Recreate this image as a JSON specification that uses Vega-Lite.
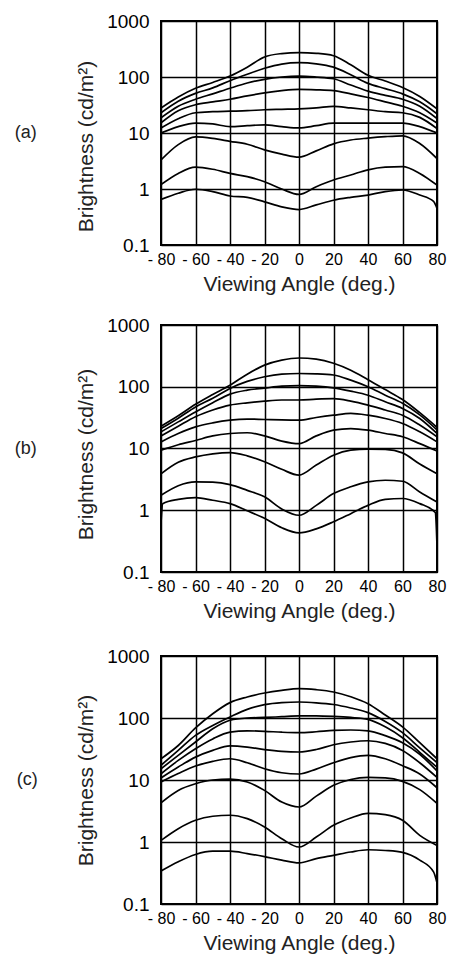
{
"$schema": "https://vega.github.io/schema/vega-lite/v6.json",
"padding": {"left": 13, "top": 11, "right": 2, "bottom": 2},
"config": {
  "view": {"stroke": "black", "strokeWidth": 2},
  "font": "Liberation Sans",
  "axis": {"grid": true, "gridColor": "black", "gridOpacity": 1, "gridWidth": 1.5, "domain": false, "ticks": false, "labelColor": "black", "labelOverlap": false, "labelFlush": false, "labelBound": false, "titleColor": "#222", "titleFontWeight": "normal", "titleFont": "Liberation Sans", "titleFontSize": 21}
},
"data": {"values": [
{"p":"a","c":1,"x":-80,"y":28},{"p":"a","c":1,"x":-70,"y":44},{"p":"a","c":1,"x":-60,"y":63},{"p":"a","c":1,"x":-50,"y":80},{"p":"a","c":1,"x":-40,"y":104},{"p":"a","c":1,"x":-30,"y":150},{"p":"a","c":1,"x":-20,"y":228},{"p":"a","c":1,"x":-10,"y":262},{"p":"a","c":1,"x":0,"y":273},{"p":"a","c":1,"x":10,"y":265},{"p":"a","c":1,"x":20,"y":240},{"p":"a","c":1,"x":30,"y":165},{"p":"a","c":1,"x":40,"y":107},{"p":"a","c":1,"x":50,"y":85},{"p":"a","c":1,"x":60,"y":65},{"p":"a","c":1,"x":70,"y":45},{"p":"a","c":1,"x":80,"y":27},
{"p":"a","c":2,"x":-80,"y":23},{"p":"a","c":2,"x":-70,"y":37},{"p":"a","c":2,"x":-60,"y":51},{"p":"a","c":2,"x":-50,"y":64},{"p":"a","c":2,"x":-40,"y":86},{"p":"a","c":2,"x":-30,"y":112},{"p":"a","c":2,"x":-20,"y":143},{"p":"a","c":2,"x":-10,"y":170},{"p":"a","c":2,"x":0,"y":180},{"p":"a","c":2,"x":10,"y":172},{"p":"a","c":2,"x":20,"y":150},{"p":"a","c":2,"x":30,"y":110},{"p":"a","c":2,"x":40,"y":77},{"p":"a","c":2,"x":50,"y":62},{"p":"a","c":2,"x":60,"y":50},{"p":"a","c":2,"x":70,"y":36},{"p":"a","c":2,"x":80,"y":22},
{"p":"a","c":3,"x":-80,"y":18.6},{"p":"a","c":3,"x":-70,"y":30},{"p":"a","c":3,"x":-60,"y":40},{"p":"a","c":3,"x":-50,"y":50},{"p":"a","c":3,"x":-40,"y":63},{"p":"a","c":3,"x":-30,"y":78},{"p":"a","c":3,"x":-20,"y":91},{"p":"a","c":3,"x":-10,"y":100},{"p":"a","c":3,"x":0,"y":104},{"p":"a","c":3,"x":10,"y":100},{"p":"a","c":3,"x":20,"y":93},{"p":"a","c":3,"x":30,"y":72},{"p":"a","c":3,"x":40,"y":56},{"p":"a","c":3,"x":50,"y":47},{"p":"a","c":3,"x":60,"y":40},{"p":"a","c":3,"x":70,"y":30},{"p":"a","c":3,"x":80,"y":18},
{"p":"a","c":4,"x":-80,"y":15.2},{"p":"a","c":4,"x":-70,"y":25},{"p":"a","c":4,"x":-60,"y":32},{"p":"a","c":4,"x":-50,"y":36},{"p":"a","c":4,"x":-40,"y":40},{"p":"a","c":4,"x":-30,"y":46},{"p":"a","c":4,"x":-20,"y":52},{"p":"a","c":4,"x":-10,"y":57},{"p":"a","c":4,"x":0,"y":60},{"p":"a","c":4,"x":10,"y":59},{"p":"a","c":4,"x":20,"y":57},{"p":"a","c":4,"x":30,"y":50},{"p":"a","c":4,"x":40,"y":43},{"p":"a","c":4,"x":50,"y":36},{"p":"a","c":4,"x":60,"y":30},{"p":"a","c":4,"x":70,"y":23},{"p":"a","c":4,"x":80,"y":15},
{"p":"a","c":5,"x":-80,"y":12.3},{"p":"a","c":5,"x":-70,"y":18},{"p":"a","c":5,"x":-60,"y":23},{"p":"a","c":5,"x":-50,"y":24},{"p":"a","c":5,"x":-40,"y":24.5},{"p":"a","c":5,"x":-30,"y":25},{"p":"a","c":5,"x":-20,"y":26},{"p":"a","c":5,"x":-10,"y":26.5},{"p":"a","c":5,"x":0,"y":27},{"p":"a","c":5,"x":10,"y":28},{"p":"a","c":5,"x":20,"y":30},{"p":"a","c":5,"x":30,"y":28},{"p":"a","c":5,"x":40,"y":26},{"p":"a","c":5,"x":50,"y":24},{"p":"a","c":5,"x":60,"y":23},{"p":"a","c":5,"x":70,"y":19},{"p":"a","c":5,"x":80,"y":12},
{"p":"a","c":6,"x":-80,"y":10},{"p":"a","c":6,"x":-70,"y":13},{"p":"a","c":6,"x":-60,"y":15},{"p":"a","c":6,"x":-50,"y":14.5},{"p":"a","c":6,"x":-40,"y":13},{"p":"a","c":6,"x":-30,"y":13.5},{"p":"a","c":6,"x":-20,"y":14},{"p":"a","c":6,"x":-10,"y":13},{"p":"a","c":6,"x":0,"y":12.3},{"p":"a","c":6,"x":10,"y":13.5},{"p":"a","c":6,"x":20,"y":15},{"p":"a","c":6,"x":30,"y":15},{"p":"a","c":6,"x":40,"y":15},{"p":"a","c":6,"x":50,"y":15},{"p":"a","c":6,"x":60,"y":15},{"p":"a","c":6,"x":70,"y":13},{"p":"a","c":6,"x":80,"y":10},
{"p":"a","c":7,"x":-80,"y":3.3},{"p":"a","c":7,"x":-70,"y":6.2},{"p":"a","c":7,"x":-60,"y":8.5},{"p":"a","c":7,"x":-50,"y":8},{"p":"a","c":7,"x":-40,"y":7.1},{"p":"a","c":7,"x":-30,"y":6.3},{"p":"a","c":7,"x":-20,"y":5.0},{"p":"a","c":7,"x":-10,"y":4.2},{"p":"a","c":7,"x":0,"y":3.7},{"p":"a","c":7,"x":10,"y":4.8},{"p":"a","c":7,"x":20,"y":6.4},{"p":"a","c":7,"x":30,"y":7.5},{"p":"a","c":7,"x":40,"y":8.1},{"p":"a","c":7,"x":50,"y":8.6},{"p":"a","c":7,"x":60,"y":8.9},{"p":"a","c":7,"x":70,"y":6.5},{"p":"a","c":7,"x":80,"y":3.5},
{"p":"a","c":8,"x":-80,"y":1.2},{"p":"a","c":8,"x":-70,"y":1.9},{"p":"a","c":8,"x":-60,"y":2.45},{"p":"a","c":8,"x":-50,"y":2.25},{"p":"a","c":8,"x":-40,"y":1.9},{"p":"a","c":8,"x":-30,"y":1.66},{"p":"a","c":8,"x":-20,"y":1.35},{"p":"a","c":8,"x":-10,"y":1.0},{"p":"a","c":8,"x":0,"y":0.8},{"p":"a","c":8,"x":10,"y":1.1},{"p":"a","c":8,"x":20,"y":1.45},{"p":"a","c":8,"x":30,"y":1.78},{"p":"a","c":8,"x":40,"y":2.2},{"p":"a","c":8,"x":50,"y":2.45},{"p":"a","c":8,"x":60,"y":2.5},{"p":"a","c":8,"x":70,"y":1.9},{"p":"a","c":8,"x":80,"y":1.17},
{"p":"a","c":9,"x":-80,"y":0.65},{"p":"a","c":9,"x":-70,"y":0.84},{"p":"a","c":9,"x":-60,"y":0.99},{"p":"a","c":9,"x":-50,"y":0.9},{"p":"a","c":9,"x":-40,"y":0.75},{"p":"a","c":9,"x":-30,"y":0.71},{"p":"a","c":9,"x":-20,"y":0.59},{"p":"a","c":9,"x":-10,"y":0.48},{"p":"a","c":9,"x":0,"y":0.43},{"p":"a","c":9,"x":10,"y":0.52},{"p":"a","c":9,"x":20,"y":0.63},{"p":"a","c":9,"x":30,"y":0.71},{"p":"a","c":9,"x":40,"y":0.78},{"p":"a","c":9,"x":50,"y":0.9},{"p":"a","c":9,"x":60,"y":0.96},{"p":"a","c":9,"x":70,"y":0.78},{"p":"a","c":9,"x":78,"y":0.6},{"p":"a","c":9,"x":80,"y":0.45},
{"p":"b","c":1,"x":-80,"y":23},{"p":"b","c":1,"x":-70,"y":34},{"p":"b","c":1,"x":-60,"y":52},{"p":"b","c":1,"x":-50,"y":75},{"p":"b","c":1,"x":-40,"y":106},{"p":"b","c":1,"x":-30,"y":160},{"p":"b","c":1,"x":-20,"y":224},{"p":"b","c":1,"x":-10,"y":270},{"p":"b","c":1,"x":0,"y":292},{"p":"b","c":1,"x":10,"y":280},{"p":"b","c":1,"x":20,"y":240},{"p":"b","c":1,"x":30,"y":185},{"p":"b","c":1,"x":40,"y":130},{"p":"b","c":1,"x":50,"y":90},{"p":"b","c":1,"x":60,"y":62},{"p":"b","c":1,"x":70,"y":38},{"p":"b","c":1,"x":80,"y":22},
{"p":"b","c":2,"x":-80,"y":21},{"p":"b","c":2,"x":-70,"y":31},{"p":"b","c":2,"x":-60,"y":47},{"p":"b","c":2,"x":-50,"y":65},{"p":"b","c":2,"x":-40,"y":94},{"p":"b","c":2,"x":-30,"y":122},{"p":"b","c":2,"x":-20,"y":145},{"p":"b","c":2,"x":-10,"y":160},{"p":"b","c":2,"x":0,"y":164},{"p":"b","c":2,"x":10,"y":162},{"p":"b","c":2,"x":20,"y":155},{"p":"b","c":2,"x":30,"y":128},{"p":"b","c":2,"x":40,"y":100},{"p":"b","c":2,"x":50,"y":73},{"p":"b","c":2,"x":60,"y":54},{"p":"b","c":2,"x":70,"y":35},{"p":"b","c":2,"x":80,"y":20},
{"p":"b","c":3,"x":-80,"y":18.6},{"p":"b","c":3,"x":-70,"y":27},{"p":"b","c":3,"x":-60,"y":39},{"p":"b","c":3,"x":-50,"y":55},{"p":"b","c":3,"x":-40,"y":76},{"p":"b","c":3,"x":-30,"y":88},{"p":"b","c":3,"x":-20,"y":95},{"p":"b","c":3,"x":-10,"y":102},{"p":"b","c":3,"x":0,"y":104},{"p":"b","c":3,"x":10,"y":102},{"p":"b","c":3,"x":20,"y":96},{"p":"b","c":3,"x":30,"y":85},{"p":"b","c":3,"x":40,"y":73},{"p":"b","c":3,"x":50,"y":57},{"p":"b","c":3,"x":60,"y":44.5},{"p":"b","c":3,"x":70,"y":30.6},{"p":"b","c":3,"x":80,"y":17.5},
{"p":"b","c":4,"x":-80,"y":16},{"p":"b","c":4,"x":-70,"y":23},{"p":"b","c":4,"x":-60,"y":32.7},{"p":"b","c":4,"x":-50,"y":42},{"p":"b","c":4,"x":-40,"y":50.5},{"p":"b","c":4,"x":-30,"y":55},{"p":"b","c":4,"x":-20,"y":58.6},{"p":"b","c":4,"x":-10,"y":61},{"p":"b","c":4,"x":0,"y":61},{"p":"b","c":4,"x":10,"y":63},{"p":"b","c":4,"x":20,"y":64},{"p":"b","c":4,"x":30,"y":58.6},{"p":"b","c":4,"x":40,"y":50.5},{"p":"b","c":4,"x":50,"y":42},{"p":"b","c":4,"x":60,"y":34.6},{"p":"b","c":4,"x":70,"y":24},{"p":"b","c":4,"x":80,"y":15.5},
{"p":"b","c":5,"x":-80,"y":12.8},{"p":"b","c":5,"x":-70,"y":17.5},{"p":"b","c":5,"x":-60,"y":22.4},{"p":"b","c":5,"x":-50,"y":26},{"p":"b","c":5,"x":-40,"y":28.8},{"p":"b","c":5,"x":-30,"y":30},{"p":"b","c":5,"x":-20,"y":29.5},{"p":"b","c":5,"x":-10,"y":29},{"p":"b","c":5,"x":0,"y":28.8},{"p":"b","c":5,"x":10,"y":31.8},{"p":"b","c":5,"x":20,"y":34.6},{"p":"b","c":5,"x":30,"y":37},{"p":"b","c":5,"x":40,"y":34.6},{"p":"b","c":5,"x":50,"y":30.6},{"p":"b","c":5,"x":60,"y":25.4},{"p":"b","c":5,"x":70,"y":18.6},{"p":"b","c":5,"x":80,"y":12.8},
{"p":"b","c":6,"x":-80,"y":9.4},{"p":"b","c":6,"x":-70,"y":11.5},{"p":"b","c":6,"x":-60,"y":13.5},{"p":"b","c":6,"x":-50,"y":16},{"p":"b","c":6,"x":-40,"y":17.5},{"p":"b","c":6,"x":-30,"y":18},{"p":"b","c":6,"x":-20,"y":16},{"p":"b","c":6,"x":-10,"y":13.2},{"p":"b","c":6,"x":0,"y":12},{"p":"b","c":6,"x":10,"y":16},{"p":"b","c":6,"x":20,"y":19.8},{"p":"b","c":6,"x":30,"y":21},{"p":"b","c":6,"x":40,"y":19.8},{"p":"b","c":6,"x":50,"y":17.5},{"p":"b","c":6,"x":60,"y":15.5},{"p":"b","c":6,"x":70,"y":12},{"p":"b","c":6,"x":80,"y":9.1},
{"p":"b","c":7,"x":-80,"y":3.9},{"p":"b","c":7,"x":-70,"y":6.0},{"p":"b","c":7,"x":-60,"y":7.3},{"p":"b","c":7,"x":-50,"y":8.2},{"p":"b","c":7,"x":-40,"y":8.6},{"p":"b","c":7,"x":-30,"y":7.6},{"p":"b","c":7,"x":-20,"y":6.1},{"p":"b","c":7,"x":-10,"y":4.6},{"p":"b","c":7,"x":0,"y":3.7},{"p":"b","c":7,"x":10,"y":5.4},{"p":"b","c":7,"x":20,"y":7.8},{"p":"b","c":7,"x":30,"y":9.4},{"p":"b","c":7,"x":40,"y":9.8},{"p":"b","c":7,"x":50,"y":9.7},{"p":"b","c":7,"x":60,"y":8.5},{"p":"b","c":7,"x":70,"y":5.6},{"p":"b","c":7,"x":80,"y":3.9},
{"p":"b","c":8,"x":-80,"y":1.75},{"p":"b","c":8,"x":-70,"y":2.5},{"p":"b","c":8,"x":-60,"y":2.88},{"p":"b","c":8,"x":-50,"y":2.85},{"p":"b","c":8,"x":-40,"y":2.6},{"p":"b","c":8,"x":-30,"y":2.1},{"p":"b","c":8,"x":-20,"y":1.65},{"p":"b","c":8,"x":-10,"y":1.05},{"p":"b","c":8,"x":0,"y":0.83},{"p":"b","c":8,"x":10,"y":1.2},{"p":"b","c":8,"x":20,"y":1.86},{"p":"b","c":8,"x":30,"y":2.4},{"p":"b","c":8,"x":40,"y":2.88},{"p":"b","c":8,"x":50,"y":3.06},{"p":"b","c":8,"x":60,"y":2.95},{"p":"b","c":8,"x":70,"y":1.98},{"p":"b","c":8,"x":80,"y":1.36},
{"p":"b","c":9,"x":-80,"y":0.62},{"p":"b","c":9,"x":-79,"y":1.28},{"p":"b","c":9,"x":-70,"y":1.5},{"p":"b","c":9,"x":-60,"y":1.6},{"p":"b","c":9,"x":-50,"y":1.45},{"p":"b","c":9,"x":-40,"y":1.28},{"p":"b","c":9,"x":-30,"y":0.98},{"p":"b","c":9,"x":-20,"y":0.74},{"p":"b","c":9,"x":-10,"y":0.52},{"p":"b","c":9,"x":0,"y":0.43},{"p":"b","c":9,"x":10,"y":0.5},{"p":"b","c":9,"x":20,"y":0.65},{"p":"b","c":9,"x":30,"y":0.88},{"p":"b","c":9,"x":40,"y":1.2},{"p":"b","c":9,"x":50,"y":1.5},{"p":"b","c":9,"x":60,"y":1.55},{"p":"b","c":9,"x":70,"y":1.28},{"p":"b","c":9,"x":79,"y":0.92},{"p":"b","c":9,"x":80,"y":0.27},
{"p":"c","c":1,"x":-80,"y":22},{"p":"c","c":1,"x":-70,"y":36},{"p":"c","c":1,"x":-60,"y":69},{"p":"c","c":1,"x":-50,"y":117},{"p":"c","c":1,"x":-40,"y":177},{"p":"c","c":1,"x":-30,"y":218},{"p":"c","c":1,"x":-20,"y":253},{"p":"c","c":1,"x":-10,"y":279},{"p":"c","c":1,"x":0,"y":297},{"p":"c","c":1,"x":10,"y":286},{"p":"c","c":1,"x":20,"y":263},{"p":"c","c":1,"x":30,"y":220},{"p":"c","c":1,"x":40,"y":170},{"p":"c","c":1,"x":50,"y":112},{"p":"c","c":1,"x":60,"y":72},{"p":"c","c":1,"x":70,"y":40},{"p":"c","c":1,"x":80,"y":22},
{"p":"c","c":2,"x":-80,"y":17.3},{"p":"c","c":2,"x":-70,"y":30},{"p":"c","c":2,"x":-60,"y":52.5},{"p":"c","c":2,"x":-50,"y":76},{"p":"c","c":2,"x":-40,"y":104},{"p":"c","c":2,"x":-30,"y":138},{"p":"c","c":2,"x":-20,"y":164},{"p":"c","c":2,"x":-10,"y":177},{"p":"c","c":2,"x":0,"y":181},{"p":"c","c":2,"x":10,"y":176},{"p":"c","c":2,"x":20,"y":165},{"p":"c","c":2,"x":30,"y":145},{"p":"c","c":2,"x":40,"y":122},{"p":"c","c":2,"x":50,"y":88},{"p":"c","c":2,"x":60,"y":58},{"p":"c","c":2,"x":70,"y":33},{"p":"c","c":2,"x":80,"y":19},
{"p":"c","c":3,"x":-80,"y":15.2},{"p":"c","c":3,"x":-70,"y":25},{"p":"c","c":3,"x":-60,"y":41},{"p":"c","c":3,"x":-50,"y":67},{"p":"c","c":3,"x":-40,"y":92},{"p":"c","c":3,"x":-30,"y":100},{"p":"c","c":3,"x":-20,"y":102},{"p":"c","c":3,"x":-10,"y":105},{"p":"c","c":3,"x":0,"y":108},{"p":"c","c":3,"x":10,"y":108},{"p":"c","c":3,"x":20,"y":106},{"p":"c","c":3,"x":30,"y":102},{"p":"c","c":3,"x":40,"y":95},{"p":"c","c":3,"x":50,"y":72},{"p":"c","c":3,"x":60,"y":48},{"p":"c","c":3,"x":70,"y":28},{"p":"c","c":3,"x":80,"y":16},
{"p":"c","c":4,"x":-80,"y":12.6},{"p":"c","c":4,"x":-70,"y":20.7},{"p":"c","c":4,"x":-60,"y":32},{"p":"c","c":4,"x":-50,"y":46},{"p":"c","c":4,"x":-40,"y":59},{"p":"c","c":4,"x":-30,"y":62},{"p":"c","c":4,"x":-20,"y":61},{"p":"c","c":4,"x":-10,"y":59},{"p":"c","c":4,"x":0,"y":58},{"p":"c","c":4,"x":10,"y":60},{"p":"c","c":4,"x":20,"y":63},{"p":"c","c":4,"x":30,"y":64},{"p":"c","c":4,"x":40,"y":62},{"p":"c","c":4,"x":50,"y":52},{"p":"c","c":4,"x":60,"y":40},{"p":"c","c":4,"x":70,"y":26},{"p":"c","c":4,"x":80,"y":14},
{"p":"c","c":5,"x":-80,"y":10.8},{"p":"c","c":5,"x":-70,"y":16.2},{"p":"c","c":5,"x":-60,"y":23.4},{"p":"c","c":5,"x":-50,"y":30},{"p":"c","c":5,"x":-40,"y":35.5},{"p":"c","c":5,"x":-30,"y":34},{"p":"c","c":5,"x":-20,"y":31},{"p":"c","c":5,"x":-10,"y":29},{"p":"c","c":5,"x":0,"y":28.3},{"p":"c","c":5,"x":10,"y":31},{"p":"c","c":5,"x":20,"y":37},{"p":"c","c":5,"x":30,"y":41},{"p":"c","c":5,"x":40,"y":43},{"p":"c","c":5,"x":50,"y":39},{"p":"c","c":5,"x":60,"y":30},{"p":"c","c":5,"x":70,"y":19},{"p":"c","c":5,"x":80,"y":11},
{"p":"c","c":6,"x":-80,"y":9.3},{"p":"c","c":6,"x":-70,"y":12.7},{"p":"c","c":6,"x":-60,"y":16.8},{"p":"c","c":6,"x":-50,"y":20},{"p":"c","c":6,"x":-40,"y":22},{"p":"c","c":6,"x":-30,"y":19},{"p":"c","c":6,"x":-20,"y":15.2},{"p":"c","c":6,"x":-10,"y":13.1},{"p":"c","c":6,"x":0,"y":12.5},{"p":"c","c":6,"x":10,"y":15},{"p":"c","c":6,"x":20,"y":19},{"p":"c","c":6,"x":30,"y":23},{"p":"c","c":6,"x":40,"y":25},{"p":"c","c":6,"x":50,"y":22},{"p":"c","c":6,"x":60,"y":17},{"p":"c","c":6,"x":70,"y":12.5},{"p":"c","c":6,"x":80,"y":7.5},
{"p":"c","c":7,"x":-80,"y":4.3},{"p":"c","c":7,"x":-70,"y":6.8},{"p":"c","c":7,"x":-60,"y":8.7},{"p":"c","c":7,"x":-50,"y":10},{"p":"c","c":7,"x":-40,"y":10.3},{"p":"c","c":7,"x":-30,"y":9.3},{"p":"c","c":7,"x":-20,"y":6.8},{"p":"c","c":7,"x":-10,"y":4.4},{"p":"c","c":7,"x":0,"y":3.67},{"p":"c","c":7,"x":10,"y":5.5},{"p":"c","c":7,"x":20,"y":8.2},{"p":"c","c":7,"x":30,"y":10.2},{"p":"c","c":7,"x":40,"y":11},{"p":"c","c":7,"x":50,"y":10.8},{"p":"c","c":7,"x":60,"y":9.5},{"p":"c","c":7,"x":70,"y":7},{"p":"c","c":7,"x":80,"y":4.2},
{"p":"c","c":8,"x":-80,"y":1.06},{"p":"c","c":8,"x":-70,"y":1.64},{"p":"c","c":8,"x":-60,"y":2.24},{"p":"c","c":8,"x":-50,"y":2.6},{"p":"c","c":8,"x":-40,"y":2.7},{"p":"c","c":8,"x":-30,"y":2.38},{"p":"c","c":8,"x":-20,"y":1.75},{"p":"c","c":8,"x":-10,"y":1.13},{"p":"c","c":8,"x":0,"y":0.83},{"p":"c","c":8,"x":10,"y":1.2},{"p":"c","c":8,"x":20,"y":1.86},{"p":"c","c":8,"x":30,"y":2.44},{"p":"c","c":8,"x":40,"y":2.9},{"p":"c","c":8,"x":50,"y":2.76},{"p":"c","c":8,"x":60,"y":2.24},{"p":"c","c":8,"x":70,"y":1.28},{"p":"c","c":8,"x":80,"y":0.88},
{"p":"c","c":9,"x":-80,"y":0.34},{"p":"c","c":9,"x":-70,"y":0.48},{"p":"c","c":9,"x":-60,"y":0.63},{"p":"c","c":9,"x":-50,"y":0.71},{"p":"c","c":9,"x":-40,"y":0.71},{"p":"c","c":9,"x":-30,"y":0.65},{"p":"c","c":9,"x":-20,"y":0.58},{"p":"c","c":9,"x":-10,"y":0.51},{"p":"c","c":9,"x":0,"y":0.46},{"p":"c","c":9,"x":10,"y":0.54},{"p":"c","c":9,"x":20,"y":0.61},{"p":"c","c":9,"x":30,"y":0.69},{"p":"c","c":9,"x":40,"y":0.75},{"p":"c","c":9,"x":50,"y":0.73},{"p":"c","c":9,"x":60,"y":0.68},{"p":"c","c":9,"x":70,"y":0.51},{"p":"c","c":9,"x":78,"y":0.33},{"p":"c","c":9,"x":80,"y":0.22}
]},
"spacing": 24,
"vconcat": [
 {"spacing": 20, "vconcat": [
  {"width": 276, "height": 224,
   "title": {"text": "(a)", "orient": "left", "angle": 0, "align": "right", "baseline": "middle", "anchor": "middle", "offset": 17, "fontSize": 18, "fontWeight": "normal", "font": "Liberation Sans", "color": "#222"},
   "transform": [{"filter": "datum.p == 'a'"}],
   "mark": {"type": "line", "color": "black", "strokeWidth": 1.7, "clip": true, "interpolate": "monotone"},
   "encoding": {
    "x": {"field": "x", "type": "quantitative", "scale": {"domain": [-80, 80], "nice": false}, "axis": {"values": [-80,-60,-40,-20,0,20,40,60,80], "labelExpr": "datum.value < 0 ? '- ' + abs(datum.value) : datum.label", "labelFont": "Liberation Sans", "labelFontSize": 16, "labelPadding": 6, "title": "Viewing Angle (deg.)", "titlePadding": 6}},
    "y": {"field": "y", "type": "quantitative", "scale": {"type": "log", "domain": [0.1, 1000]}, "axis": {"values": [0.1,1,10,100,1000], "labelExpr": "datum.value < 1 ? '0.1' : format(datum.value, 'd')", "labelFontSize": 19, "labelPadding": 12, "title": "Brightness (cd/m²)", "titlePadding": 10, "titleY": 125}},
    "detail": {"field": "c"}
   }
  },
  {"width": 276, "height": 247,
   "title": {"text": "(b)", "orient": "left", "angle": 0, "align": "right", "baseline": "middle", "anchor": "middle", "offset": 17, "fontSize": 18, "fontWeight": "normal", "font": "Liberation Sans", "color": "#222"},
   "transform": [{"filter": "datum.p == 'b'"}],
   "mark": {"type": "line", "color": "black", "strokeWidth": 1.7, "clip": true, "interpolate": "monotone"},
   "encoding": {
    "x": {"field": "x", "type": "quantitative", "scale": {"domain": [-80, 80], "nice": false}, "axis": {"values": [-80,-60,-40,-20,0,20,40,60,80], "labelExpr": "datum.value < 0 ? '- ' + abs(datum.value) : datum.label", "labelFont": "Liberation Sans", "labelFontSize": 16, "labelPadding": 6, "title": "Viewing Angle (deg.)", "titlePadding": 6}},
    "y": {"field": "y", "type": "quantitative", "scale": {"type": "log", "domain": [0.1, 1000]}, "axis": {"values": [0.1,1,10,100,1000], "labelExpr": "datum.value < 1 ? '0.1' : format(datum.value, 'd')", "labelFontSize": 19, "labelPadding": 12, "title": "Brightness (cd/m²)", "titlePadding": 10, "titleY": 129}},
    "detail": {"field": "c"}
   }
  }
 ]},
 {"width": 276, "height": 248,
  "title": {"text": "(c)", "orient": "left", "angle": 0, "align": "right", "baseline": "middle", "anchor": "middle", "offset": 17, "fontSize": 18, "fontWeight": "normal", "font": "Liberation Sans", "color": "#222"},
  "transform": [{"filter": "datum.p == 'c'"}],
  "mark": {"type": "line", "color": "black", "strokeWidth": 1.7, "clip": true, "interpolate": "monotone"},
  "encoding": {
   "x": {"field": "x", "type": "quantitative", "scale": {"domain": [-80, 80], "nice": false}, "axis": {"values": [-80,-60,-40,-20,0,20,40,60,80], "labelExpr": "datum.value < 0 ? '- ' + abs(datum.value) : datum.label", "labelFont": "Liberation Sans", "labelFontSize": 16, "labelPadding": 6, "title": "Viewing Angle (deg.)", "titlePadding": 6}},
   "y": {"field": "y", "type": "quantitative", "scale": {"type": "log", "domain": [0.1, 1000]}, "axis": {"values": [0.1,1,10,100,1000], "labelExpr": "datum.value < 1 ? '0.1' : format(datum.value, 'd')", "labelFontSize": 19, "labelPadding": 12, "title": "Brightness (cd/m²)", "titlePadding": 10}},
   "detail": {"field": "c"}
  }
 }
]
}
